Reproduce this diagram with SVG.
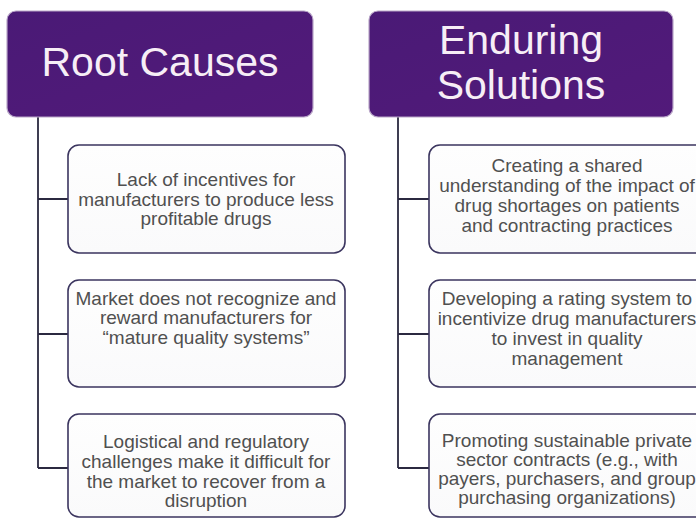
<svg xmlns="http://www.w3.org/2000/svg" width="696" height="518" viewBox="0 0 696 518">
  <defs>
    <linearGradient id="hdrFill" x1="0" y1="0" x2="1" y2="1">
      <stop offset="0" stop-color="#4a1a76"/>
      <stop offset="1" stop-color="#521a7a"/>
    </linearGradient>
    <linearGradient id="boxFill" x1="0" y1="0" x2="0" y2="1">
      <stop offset="0" stop-color="#fefefe"/>
      <stop offset="1" stop-color="#fafafb"/>
    </linearGradient>
  </defs>
  <style>
    .hdr { fill: url(#hdrFill); stroke: #b9a6c8; stroke-width: 1.2; }
    .hdr-text { font-family: "Liberation Sans", Arial, sans-serif; font-size: 41px; fill: #f7eef6; text-anchor: middle; }
    .box { fill: url(#boxFill); stroke: #3b355f; stroke-width: 1.6; }
    .box-text { font-family: "Liberation Sans", Arial, sans-serif; font-size: 19px; fill: #505050; text-anchor: middle; }
    .conn { fill: none; stroke: #2b2940; stroke-width: 1.8; }
  </style>
  <rect width="696" height="518" fill="#ffffff"/>

  <!-- tree connectors -->
  <g id="connectors">
    <path class="conn" d="M38 117 V468 M38 199 H68 M38 334 H68 M38 468 H68"/>
    <path class="conn" d="M398 117 V468 M398 199 H429 M398 334 H429 M398 468 H429"/>
  </g>

  <!-- column headers -->
  <g id="root-causes">
    <rect class="hdr" x="7" y="11" width="306" height="106" rx="9"/>
    <text class="hdr-text" x="160" y="76">Root Causes</text>
  </g>
  <g id="enduring-solutions">
    <rect class="hdr" x="369" y="11" width="304" height="106" rx="9"/>
    <text class="hdr-text" x="521" y="54">Enduring</text>
    <text class="hdr-text" x="521" y="99">Solutions</text>
  </g>

  <!-- root causes -->
  <g id="cause-incentives">
    <rect class="box" x="68" y="145" width="277" height="108" rx="11"/>
    <text class="box-text" x="206" y="186">Lack of incentives for</text>
    <text class="box-text" x="206" y="206">manufacturers to produce less</text>
    <text class="box-text" x="206" y="225">profitable drugs</text>
  </g>
  <g id="cause-quality">
    <rect class="box" x="68" y="280" width="277" height="107" rx="11"/>
    <text class="box-text" x="206" y="305">Market does not recognize and</text>
    <text class="box-text" x="206" y="324">reward manufacturers for</text>
    <text class="box-text" x="206" y="344">“mature quality systems”</text>
  </g>
  <g id="cause-logistics">
    <rect class="box" x="68" y="414" width="277" height="103" rx="11"/>
    <text class="box-text" x="206" y="448">Logistical and regulatory</text>
    <text class="box-text" x="206" y="468">challenges make it difficult for</text>
    <text class="box-text" x="206" y="488">the market to recover from a</text>
    <text class="box-text" x="206" y="507">disruption</text>
  </g>

  <!-- enduring solutions -->
  <g id="solution-understanding">
    <rect class="box" x="429" y="145" width="277" height="108" rx="11"/>
    <text class="box-text" x="567" y="172">Creating a shared</text>
    <text class="box-text" x="567" y="192">understanding of the impact of</text>
    <text class="box-text" x="567" y="212">drug shortages on patients</text>
    <text class="box-text" x="567" y="232">and contracting practices</text>
  </g>
  <g id="solution-rating">
    <rect class="box" x="429" y="280" width="277" height="107" rx="11"/>
    <text class="box-text" x="567" y="305">Developing a rating system to</text>
    <text class="box-text" x="567" y="325">incentivize drug manufacturers</text>
    <text class="box-text" x="567" y="345">to invest in quality</text>
    <text class="box-text" x="567" y="365">management</text>
  </g>
  <g id="solution-contracts">
    <rect class="box" x="429" y="414" width="277" height="103" rx="11"/>
    <text class="box-text" x="567" y="447">Promoting sustainable private</text>
    <text class="box-text" x="567" y="466">sector contracts (e.g., with</text>
    <text class="box-text" x="567" y="485">payers, purchasers, and group</text>
    <text class="box-text" x="567" y="504">purchasing organizations)</text>
  </g>
</svg>
